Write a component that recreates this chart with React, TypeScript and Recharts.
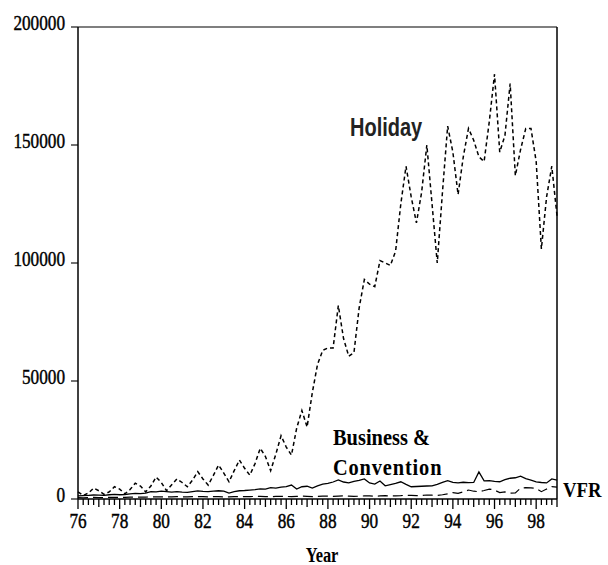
import { LineChart, Line, XAxis, YAxis, ReferenceLine } from "recharts";

// quarterly, 1976Q1 .. 1999Q1
const HOLIDAY = [
  3000, 1500, 2500, 4600, 3500, 2000, 3000, 5200, 4200, 2200, 4000, 6700,
  5500, 3000, 5500, 9300, 7000, 3500, 6000, 8500, 7000, 5200, 8000, 11600,
  8500, 5900, 10000, 14400, 11000, 7300, 12000, 16500, 13000, 10100, 15000, 21500,
  18000, 12000, 19000, 26800, 22000, 18600, 30000, 37500, 30500, 45000, 57000, 63000,
  64000, 64000, 82000, 68000, 60500, 62000, 81000, 93000, 91000, 90000, 101000, 100000,
  99000, 105000, 125000, 141000, 128000, 117000, 130000, 150000, 125000, 100000, 130000, 158000,
  147000, 129000, 145000, 157000, 152000, 145000, 143000, 160000, 180000, 147000, 154000, 176000,
  137000, 148000, 157000, 157000, 143000, 106000, 128000, 141000, 120000,
];

const BUSINESS = [
  1300, 1400, 1500, 1700, 1600, 1500, 1800, 2000, 1800, 1900, 2200, 2400,
  2300, 2500, 3100, 3000, 3300, 3100, 2900, 3100, 2900, 2800, 3100, 3400,
  3200, 3100, 3300, 3500, 3300, 2500, 3100, 3500, 3600, 3800, 4000, 4300,
  4200, 4800, 4600, 5000, 5200, 5900, 4200, 5200, 5400, 4600, 5600, 6300,
  6600, 7200, 8100, 7200, 6800, 7500, 7900, 8500, 6800, 6300, 7600, 5600,
  6100, 6600, 7300, 6200, 5200, 5300, 5400, 5500, 5600, 6200, 7000, 7800,
  7000, 6800, 7100, 6900, 7000, 11500, 7700, 7800, 7500, 7300, 8200, 8800,
  9000, 9700, 8600, 8000, 7300, 7000, 6800, 8500, 8000,
];

const VFR = [
  600, 500, 600, 700, 600, 600, 700, 700, 700, 700, 800, 800,
  800, 800, 900, 900, 900, 900, 900, 1000, 900, 900, 1000, 1000,
  1000, 900, 1000, 1000, 900, 900, 1000, 1000, 1000, 1000, 1100, 1100,
  1000, 1000, 1100, 1100, 1100, 1000, 1100, 1200, 1100, 1000, 1100, 1200,
  1200, 1100, 1200, 1300, 1200, 1100, 1200, 1300, 1300, 1200, 1300, 1400,
  1300, 1300, 1400, 1600, 1500, 1400, 1500, 1700, 1600, 1500, 1800, 2200,
  2700, 2400, 3000, 3800, 3300, 3100, 3600, 4200, 3800, 2700, 3000, 2500,
  2600, 4600, 4800, 4700, 4500, 3100, 4200, 5200, 5000,
];

const QUARTERS = HOLIDAY.map((_, i) => 76 + i / 4);
const Y_TICKS = [0, 50000, 100000, 150000, 200000];

const data = QUARTERS.map((t, i) => ({
  t,
  holiday: HOLIDAY[i],
  business: BUSINESS[i],
  vfr: VFR[i],
}));

const SERIF = "'Liberation Serif', 'Times New Roman', serif";

const XTick = ({ x, y, payload }: any) => {
  const v = payload.value;
  const isYear = Math.abs(v - Math.round(v)) < 0.01;
  const labeled = isYear && Math.round(v) % 2 === 0;
  const len = labeled ? 10 : isYear ? 8 : 6;
  return (
    <g>
      <line x1={x} y1={y} x2={x} y2={y + len} stroke="#000" strokeWidth={1.3} />
      {labeled && (
        <text
          transform={`translate(${x},${y + 29}) scale(0.82,1)`}
          textAnchor="middle"
          fontFamily={SERIF}
          fontSize={21}
          fill="#000"
          stroke="#000"
          strokeWidth={0.45}
        >
          {Math.round(v)}
        </text>
      )}
    </g>
  );
};

const YTick = ({ x, y, payload }: any) => (
  <text
    transform={`translate(${x},${y + 3}) scale(0.82,1)`}
    textAnchor="end"
    fontFamily={SERIF}
    fontSize={21}
    fill="#000"
    stroke="#000"
    strokeWidth={0.45}
  >
    {payload.value}
  </text>
);

export default function App() {
  return (
    <div style={{ position: "absolute", left: 0, top: 0, width: 608, height: 565, background: "#fff" }}>
      <LineChart
        width={608}
        height={565}
        data={data}
        margin={{ top: 27, right: 51, bottom: 0, left: 0 }}
      >
        <XAxis
          dataKey="t"
          type="number"
          domain={[76, 99]}
          ticks={QUARTERS}
          interval={0}
          tickLine={false}
          tickSize={0}
          tickMargin={0}
          height={66}
          axisLine={{ stroke: "#000", strokeWidth: 1.5 }}
          tick={<XTick />}
        />
        <YAxis
          type="number"
          domain={[0, 200000]}
          ticks={Y_TICKS}
          interval={0}
          width={78}
          tickSize={7}
          tickMargin={6}
          tickLine={{ stroke: "#000", strokeWidth: 1.1 }}
          axisLine={{ stroke: "#000", strokeWidth: 1.5 }}
          tick={<YTick />}
        />
        <ReferenceLine y={200000} stroke="#000" strokeWidth={1.2} />
        <ReferenceLine x={99} stroke="#000" strokeWidth={1.5} />
        <Line
          dataKey="holiday"
          type="linear"
          stroke="#000"
          strokeWidth={1.5}
          strokeDasharray="4 3"
          dot={false}
          isAnimationActive={false}
        />
        <Line
          dataKey="business"
          type="linear"
          stroke="#000"
          strokeWidth={1.3}
          dot={false}
          isAnimationActive={false}
        />
        <Line
          dataKey="vfr"
          type="linear"
          stroke="#000"
          strokeWidth={1.2}
          strokeDasharray="10 5"
          dot={false}
          isAnimationActive={false}
        />
      </LineChart>
      <svg
        width={608}
        height={565}
        style={{ position: "absolute", left: 0, top: 0, pointerEvents: "none" }}
      >
        <text
          transform="translate(350,136) scale(0.8,1)"
          fontFamily="'Liberation Sans', Arial, sans-serif"
          fontWeight="bold"
          fontSize={25}
          fill="#222"
        >
          Holiday
        </text>
        <text transform="translate(333,445) scale(0.85,1)" fontFamily={SERIF} fontWeight="bold" fontSize={24} fill="#000">
          Business &amp;
        </text>
        <text
          transform="translate(333,475) scale(0.85,1)"
          fontFamily={SERIF}
          fontWeight="bold"
          fontSize={24}
          letterSpacing={1}
          fill="#000"
        >
          Convention
        </text>
        <text transform="translate(563,497) scale(0.85,1)" fontFamily={SERIF} fontWeight="bold" fontSize={22} fill="#000">
          VFR
        </text>
        <text
          transform="translate(322,562) scale(0.78,1)"
          textAnchor="middle"
          fontFamily={SERIF}
          fontWeight="bold"
          fontSize={21}
          fill="#000"
        >
          Year
        </text>
      </svg>
    </div>
  );
}
